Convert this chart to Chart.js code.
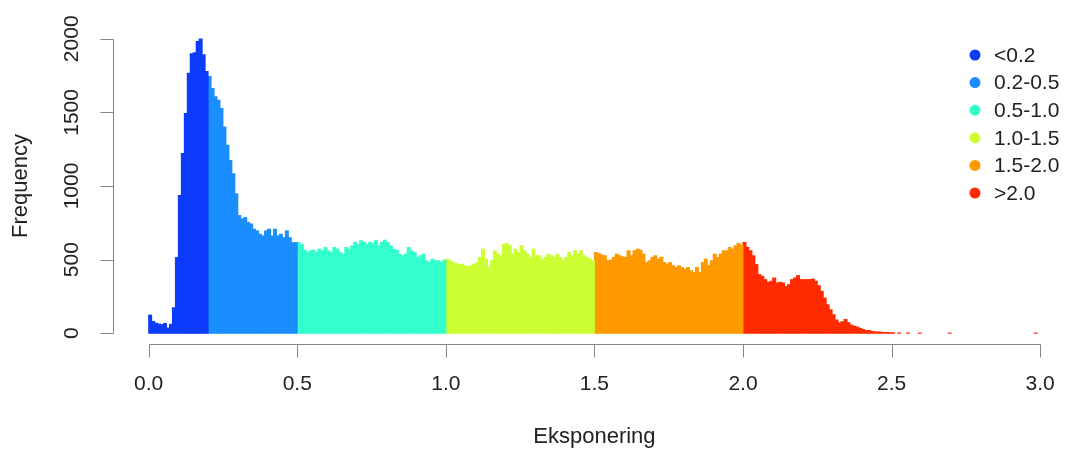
<!DOCTYPE html>
<html>
<head>
<meta charset="utf-8">
<script src="https://cdn.jsdelivr.net/npm/chart.js@4/dist/chart.umd.min.js"></script>
<style>
  body { margin: 0; background: #fff; }
  #wrap { width: 1069px; height: 454px; }
</style>
</head>
<body>
<div id="wrap"><canvas id="histChart" width="1069" height="454"></canvas></div>
<script>
// histogram bins: width 0.01, starting at 0.0
const binStart = 0;
const binWidth = 0.01;

const categories = ['<0.2', '0.2-0.5', '0.5-1.0', '1.0-1.5', '1.5-2.0', '>2.0'];
const colors = ['#0c3bfa', '#1a8eff', '#33ffcc', '#ccff33', '#ff9900', '#ff2a00'];

// counts per bin, one array per colour group
const countsBelow02 = [123, 80, 68, 62, 58, 66, 35, 60, 173, 514, 935, 1220, 1493, 1766, 1898, 1905, 1982, 1998, 1891, 1777];
const counts02to05 = [1743, 1663, 1606, 1583, 1527, 1401, 1276, 1174, 1083, 947, 799, 776, 785, 753, 741, 706, 695, 672, 661, 695,
  706, 661, 706, 661, 672, 649, 695, 649, 615, 615];
const counts05to10 = [617, 603, 564, 548, 560, 564, 548, 571, 560, 582, 560, 548, 582, 571, 548, 537, 582, 571, 594, 617,
  603, 628, 617, 603, 617, 610, 628, 594, 617, 632, 617, 594, 571, 564, 537, 526, 537, 582, 560, 548,
  515, 526, 537, 492, 480, 503, 492, 492, 480, 496];
const counts10to15 = [503, 492, 480, 473, 464, 469, 458, 451, 458, 469, 480, 515, 571, 503, 446, 492, 560, 537, 526, 603,
  610, 594, 537, 571, 548, 594, 560, 537, 515, 571, 526, 526, 503, 515, 537, 526, 515, 537, 515, 492,
  515, 548, 526, 560, 537, 560, 526, 515, 503, 492];
const counts15to20 = [548, 541, 532, 526, 492, 496, 515, 537, 526, 519, 515, 560, 526, 560, 571, 564, 537, 480, 492, 515,
  526, 503, 515, 480, 469, 480, 458, 446, 458, 446, 435, 446, 424, 412, 446, 412, 480, 503, 458, 492,
  537, 515, 537, 560, 560, 582, 571, 594, 610, 600];
const countsAbove20 = [617, 583, 560, 526, 466, 398, 387, 364, 346, 353, 375, 341, 346, 341, 318, 330, 364, 375, 391, 364,
  364, 364, 364, 368, 353, 323, 284, 239, 193, 159, 125, 90, 70, 78, 93, 71, 55, 48, 41, 32,
  25, 18, 18, 12, 9, 9, 7, 5, 5, 4, 3, 0, 2, 0, 0, 1, 0, 0, 0, 1,
  0, 0, 0, 0, 0, 0, 0, 0, 0, 1, 0, 0, 0, 0, 0, 0, 0, 0, 0, 0,
  0, 0, 0, 0, 0, 0, 0, 0, 0, 0, 0, 0, 0, 0, 0, 0, 0, 0, 1, 0];
const groupCounts = [countsBelow02, counts02to05, counts05to10, counts10to15, counts15to20, countsAbove20];
const groupFirstBin = [0, 20, 50, 100, 150, 200];

const xTicks = [0, 0.5, 1, 1.5, 2, 2.5, 3];
const xTickLabels = ['0.0', '0.5', '1.0', '1.5', '2.0', '2.5', '3.0'];
const yTicks = [0, 500, 1000, 1500, 2000];
const yTickLabels = ['0', '500', '1000', '1500', '2000'];

const xTitle = 'Eksponering';
const yTitle = 'Frequency';

const axisColor = '#858585';
const textColor = '#222';
const fontFamily = '"Liberation Sans", Arial, sans-serif';

const datasets = groupCounts.map((counts, g) => ({
  label: categories[g],
  data: counts.map((c, i) => ({
    x: binStart + (groupFirstBin[g] + i + 0.5) * binWidth,
    y: c > 0 ? c : null
  })),
  backgroundColor: colors[g],
  borderWidth: 0,
  inflateAmount: 0.5
}));

// R style axes, titles and legend
const rStyle = {
  id: 'rStyle',
  afterDraw(chart) {
    const { ctx, chartArea, scales: { x, y } } = chart;
    ctx.save();
    ctx.strokeStyle = axisColor;
    ctx.lineWidth = 1;
    ctx.fillStyle = textColor;
    ctx.font = '21px ' + fontFamily;

    // x axis
    const ay = chartArea.bottom - 0.5;
    ctx.beginPath();
    ctx.moveTo(Math.round(x.getPixelForValue(xTicks[0])) + 0.5, ay);
    ctx.lineTo(Math.round(x.getPixelForValue(xTicks[xTicks.length - 1])) + 0.5, ay);
    xTicks.forEach(v => {
      const px = Math.round(x.getPixelForValue(v)) + 0.5;
      ctx.moveTo(px, ay);
      ctx.lineTo(px, ay + 13);
    });
    ctx.stroke();
    ctx.textAlign = 'center';
    ctx.textBaseline = 'middle';
    xTicks.forEach((v, i) => ctx.fillText(xTickLabels[i], x.getPixelForValue(v), ay + 40));

    // y axis
    const ax = chartArea.left + 0.5;
    ctx.beginPath();
    ctx.moveTo(ax, Math.round(y.getPixelForValue(yTicks[0])) + 0.5);
    ctx.lineTo(ax, Math.round(y.getPixelForValue(yTicks[yTicks.length - 1])) + 0.5);
    yTicks.forEach(v => {
      const py = Math.round(y.getPixelForValue(v)) + 0.5;
      ctx.moveTo(ax, py);
      ctx.lineTo(ax - 13, py);
    });
    ctx.stroke();
    yTicks.forEach((v, i) => {
      ctx.save();
      ctx.translate(ax - 41, y.getPixelForValue(v));
      ctx.rotate(-Math.PI / 2);
      ctx.fillText(yTickLabels[i], 0, 0);
      ctx.restore();
    });

    // titles
    ctx.font = '22px ' + fontFamily;
    ctx.fillText(xTitle, (x.getPixelForValue(0) + x.getPixelForValue(3)) / 2, 437);
    ctx.save();
    ctx.translate(21, (y.getPixelForValue(0) + y.getPixelForValue(2000)) / 2);
    ctx.rotate(-Math.PI / 2);
    ctx.fillText(yTitle, 0, 0);
    ctx.restore();

    // legend
    ctx.font = '21px ' + fontFamily;
    ctx.textAlign = 'left';
    categories.forEach((label, i) => {
      const ly = 55 + i * 27.6;
      ctx.fillStyle = colors[i];
      ctx.beginPath();
      ctx.arc(975, ly, 5.5, 0, Math.PI * 2);
      ctx.fill();
      ctx.fillStyle = textColor;
      ctx.fillText(label, 994, ly + 1);
    });
    ctx.restore();
  }
};

const ctx = document.getElementById('histChart').getContext('2d');
const histChart = new Chart(ctx, {
  type: 'bar',
  data: { datasets: datasets },
  options: {
    responsive: false,
    animation: false,
    layout: { padding: { left: 113, right: 11, top: 27, bottom: 109 } },
    datasets: {
      bar: { barPercentage: 1, categoryPercentage: 1, grouped: false }
    },
    plugins: {
      legend: { display: false },
      tooltip: { enabled: false }
    },
    scales: {
      x: { type: 'linear', min: -0.12, max: 3.06, offset: false, display: false },
      y: { min: -80, max: 2080, display: false }
    }
  },
  plugins: [rStyle]
});
</script>
</body>
</html>
